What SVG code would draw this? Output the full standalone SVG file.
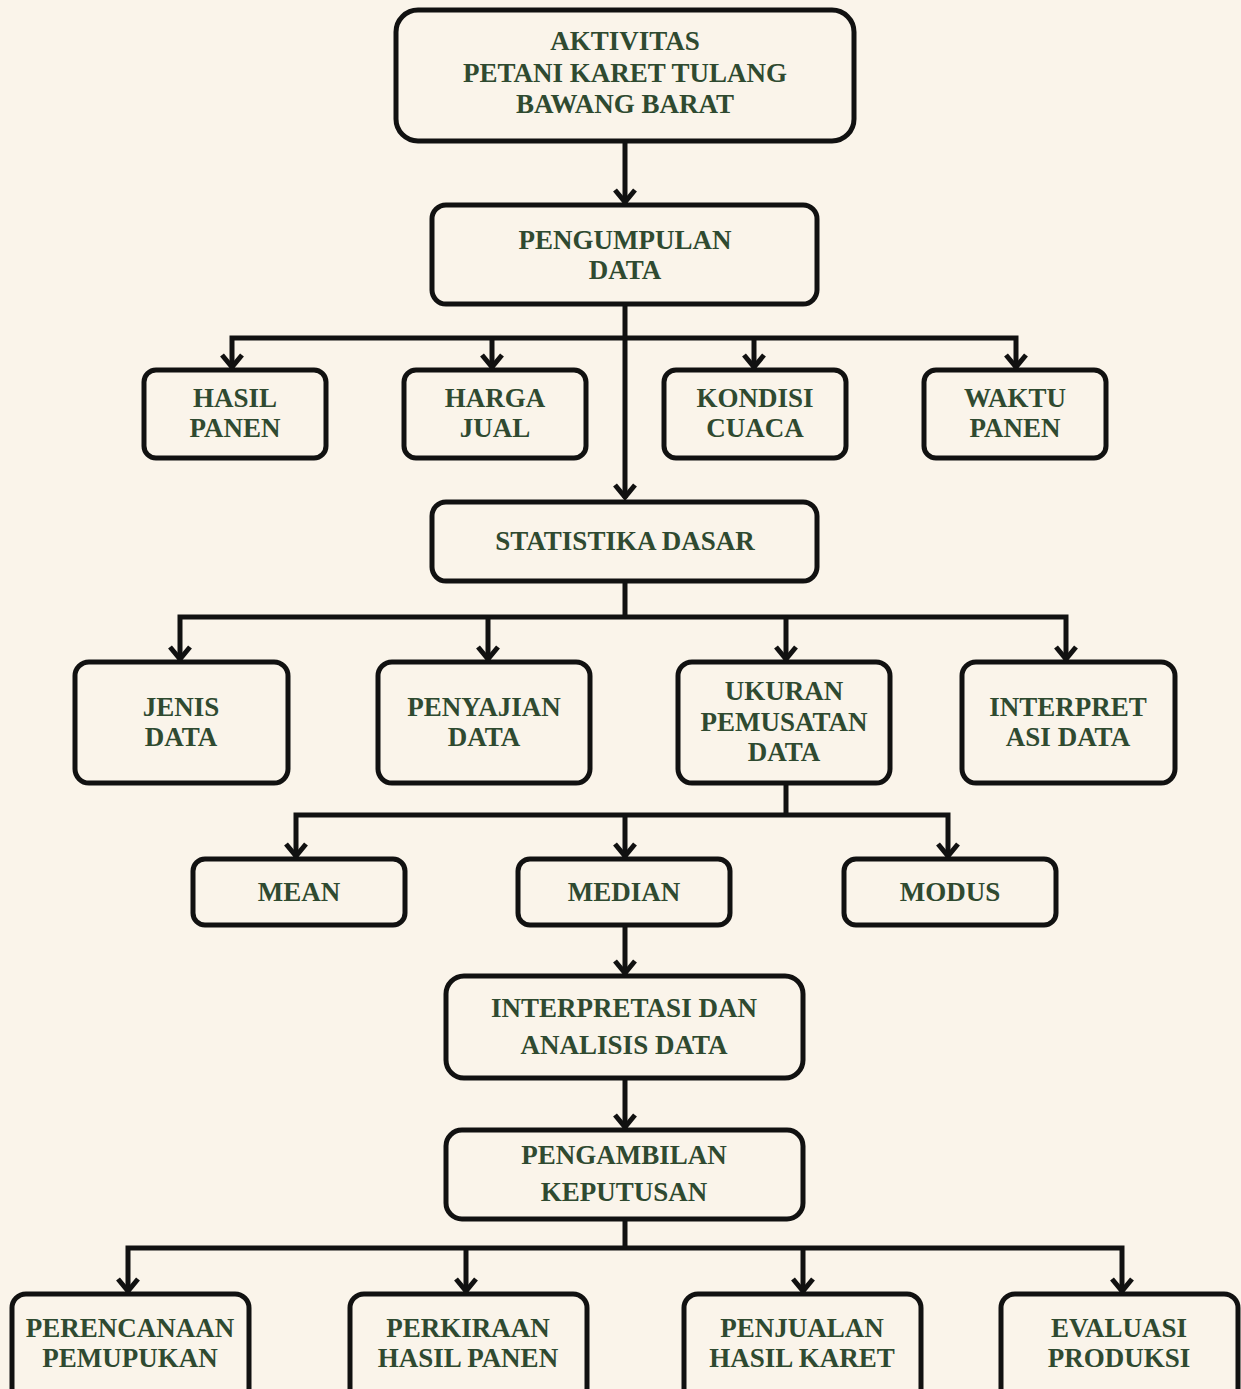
<svg xmlns="http://www.w3.org/2000/svg" width="1241" height="1389" viewBox="0 0 1241 1389">
<defs>
<style>
.box{fill:#faf4ea;stroke:#111;stroke-width:5}
.t{font-family:"Liberation Serif","Times New Roman",serif;font-weight:bold;font-size:27px;fill:#2f4a30;text-anchor:middle}
.c{fill:none;stroke:#111;stroke-width:5;stroke-linejoin:miter}
</style>
</defs>
<rect width="1241" height="1389" fill="#faf4ea"/>
<g id="connectors">
<path class="c" d="M625,141 V203"/>
<path class="c" d="M625,304 V498"/>
<path class="c" d="M232,368 V338 H1016 V368 M492,338 V368 M754,338 V368"/>
<path class="c" d="M625,581 V617 M180,660 V617 H1066 V660 M488,617 V660 M786,617 V660"/>
<path class="c" d="M786,783 V815 M296,857 V815 H948 V857 M625,815 V857"/>
<path class="c" d="M625,925 V974"/>
<path class="c" d="M625,1078 V1128"/>
<path class="c" d="M625,1219 V1248 M128,1292 V1248 H1122 V1292 M466,1248 V1292 M803,1248 V1292"/>
<g class="c">
<path d="M615,190 L625,202 L635,190"/>
<path d="M615,485 L625,497 L635,485"/>
<path d="M222,355 L232,367 L242,355"/>
<path d="M482,355 L492,367 L502,355"/>
<path d="M744,355 L754,367 L764,355"/>
<path d="M1006,355 L1016,367 L1026,355"/>
<path d="M170,647 L180,659 L190,647"/>
<path d="M478,647 L488,659 L498,647"/>
<path d="M776,647 L786,659 L796,647"/>
<path d="M1056,647 L1066,659 L1076,647"/>
<path d="M286,844 L296,856 L306,844"/>
<path d="M615,844 L625,856 L635,844"/>
<path d="M938,844 L948,856 L958,844"/>
<path d="M615,961 L625,973 L635,961"/>
<path d="M615,1115 L625,1127 L635,1115"/>
<path d="M118,1279 L128,1291 L138,1279"/>
<path d="M456,1279 L466,1291 L476,1279"/>
<path d="M793,1279 L803,1291 L813,1279"/>
<path d="M1112,1279 L1122,1291 L1132,1279"/>
</g>
</g>
<g id="n-aktivitas"><rect class="box" x="396" y="10" width="458" height="131" rx="22"/>
<text class="t" x="625" y="50">AKTIVITAS</text><text class="t" x="625" y="82">PETANI KARET TULANG</text><text class="t" x="625" y="113">BAWANG BARAT</text></g>
<g id="n-pengumpulan"><rect class="box" x="432" y="205" width="385" height="99" rx="14"/>
<text class="t" x="625" y="249">PENGUMPULAN</text><text class="t" x="625" y="279">DATA</text></g>
<g id="n-hasil"><rect class="box" x="144" y="370" width="182" height="88" rx="12"/>
<text class="t" x="235" y="407">HASIL</text><text class="t" x="235" y="437">PANEN</text></g>
<g id="n-harga"><rect class="box" x="404" y="370" width="182" height="88" rx="12"/>
<text class="t" x="495" y="407">HARGA</text><text class="t" x="495" y="437">JUAL</text></g>
<g id="n-kondisi"><rect class="box" x="664" y="370" width="182" height="88" rx="12"/>
<text class="t" x="755" y="407">KONDISI</text><text class="t" x="755" y="437">CUACA</text></g>
<g id="n-waktu"><rect class="box" x="924" y="370" width="182" height="88" rx="12"/>
<text class="t" x="1015" y="407">WAKTU</text><text class="t" x="1015" y="437">PANEN</text></g>
<g id="n-statistika"><rect class="box" x="432" y="502" width="385" height="79" rx="14"/>
<text class="t" x="625" y="550">STATISTIKA DASAR</text></g>
<g id="n-jenis"><rect class="box" x="75" y="662" width="213" height="121" rx="14"/>
<text class="t" x="181" y="716">JENIS</text><text class="t" x="181" y="746">DATA</text></g>
<g id="n-penyajian"><rect class="box" x="378" y="662" width="212" height="121" rx="14"/>
<text class="t" x="484" y="716">PENYAJIAN</text><text class="t" x="484" y="746">DATA</text></g>
<g id="n-ukuran"><rect class="box" x="678" y="662" width="212" height="121" rx="14"/>
<text class="t" x="784" y="700">UKURAN</text><text class="t" x="784" y="731">PEMUSATAN</text><text class="t" x="784" y="761">DATA</text></g>
<g id="n-interpret"><rect class="box" x="962" y="662" width="213" height="121" rx="14"/>
<text class="t" x="1068" y="716">INTERPRET</text><text class="t" x="1068" y="746">ASI DATA</text></g>
<g id="n-mean"><rect class="box" x="193" y="859" width="212" height="66" rx="12"/>
<text class="t" x="299" y="901">MEAN</text></g>
<g id="n-median"><rect class="box" x="518" y="859" width="212" height="66" rx="12"/>
<text class="t" x="624" y="901">MEDIAN</text></g>
<g id="n-modus"><rect class="box" x="844" y="859" width="212" height="66" rx="12"/>
<text class="t" x="950" y="901">MODUS</text></g>
<g id="n-analisis"><rect class="box" x="446" y="976" width="357" height="102" rx="18"/>
<text class="t" x="624" y="1017">INTERPRETASI DAN</text><text class="t" x="624" y="1054">ANALISIS DATA</text></g>
<g id="n-keputusan"><rect class="box" x="446" y="1130" width="357" height="89" rx="16"/>
<text class="t" x="624" y="1164">PENGAMBILAN</text><text class="t" x="624" y="1201">KEPUTUSAN</text></g>
<g id="n-perencanaan"><rect class="box" x="12" y="1294" width="237" height="110" rx="14"/>
<text class="t" x="130" y="1337">PERENCANAAN</text><text class="t" x="130" y="1367">PEMUPUKAN</text></g>
<g id="n-perkiraan"><rect class="box" x="350" y="1294" width="237" height="110" rx="14"/>
<text class="t" x="468" y="1337">PERKIRAAN</text><text class="t" x="468" y="1367">HASIL PANEN</text></g>
<g id="n-penjualan"><rect class="box" x="684" y="1294" width="237" height="110" rx="14"/>
<text class="t" x="802" y="1337">PENJUALAN</text><text class="t" x="802" y="1367">HASIL KARET</text></g>
<g id="n-evaluasi"><rect class="box" x="1001" y="1294" width="237" height="110" rx="14"/>
<text class="t" x="1119" y="1337">EVALUASI</text><text class="t" x="1119" y="1367">PRODUKSI</text></g>
</svg>
